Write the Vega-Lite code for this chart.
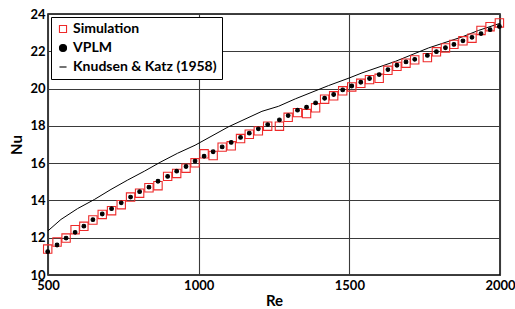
{
  "$schema": "https://vega.github.io/schema/vega-lite/v6.json",
  "autosize": {"type": "none"},
  "width": 452,
  "height": 261,
  "padding": {"left": 48, "top": 14, "right": 15, "bottom": 34},
  "background": "white",
  "config": {
    "font": "Lato",
    "view": {"stroke": "black", "strokeWidth": 1.5},
    "axis": {
      "labelFont": "Lato", "labelFontWeight": "bold", "labelFontSize": 13, "labelColor": "black",
      "titleFont": "Lato", "titleFontWeight": "bold", "titleFontSize": 15, "titleColor": "black",
      "domain": false, "ticks": false, "gridColor": "#3a3a3a", "gridWidth": 1.1, "gridOpacity": 1,
      "labelOverlap": false
    },
    "legend": {
      "labelFont": "Lato", "labelFontWeight": "bold", "labelFontSize": 14, "labelColor": "black"
    }
  },
  "datasets": {
    "pts": [
      {"Re": 499, "Simulation": 11.39, "VPLM": 11.25},
      {"Re": 530, "Simulation": 11.77, "VPLM": 11.61},
      {"Re": 560, "Simulation": 11.98, "VPLM": 11.98},
      {"Re": 590, "Simulation": 12.43, "VPLM": 12.29},
      {"Re": 619, "Simulation": 12.61, "VPLM": 12.62},
      {"Re": 649, "Simulation": 12.95, "VPLM": 12.97},
      {"Re": 680, "Simulation": 13.25, "VPLM": 13.27},
      {"Re": 711, "Simulation": 13.45, "VPLM": 13.56},
      {"Re": 743, "Simulation": 13.77, "VPLM": 13.87},
      {"Re": 774, "Simulation": 14.18, "VPLM": 14.18},
      {"Re": 804, "Simulation": 14.39, "VPLM": 14.47},
      {"Re": 835, "Simulation": 14.68, "VPLM": 14.71},
      {"Re": 865, "Simulation": 14.79, "VPLM": 15.03},
      {"Re": 897, "Simulation": 15.29, "VPLM": 15.29},
      {"Re": 927, "Simulation": 15.45, "VPLM": 15.57},
      {"Re": 958, "Simulation": 15.73, "VPLM": 15.82},
      {"Re": 988, "Simulation": 16.02, "VPLM": 16.11},
      {"Re": 1018, "Simulation": 16.5, "VPLM": 16.37},
      {"Re": 1048, "Simulation": 16.41, "VPLM": 16.61},
      {"Re": 1078, "Simulation": 16.86, "VPLM": 16.87},
      {"Re": 1108, "Simulation": 16.93, "VPLM": 17.11},
      {"Re": 1139, "Simulation": 17.32, "VPLM": 17.38},
      {"Re": 1168, "Simulation": 17.55, "VPLM": 17.61},
      {"Re": 1198, "Simulation": 17.73, "VPLM": 17.84},
      {"Re": 1229, "Simulation": 17.98, "VPLM": 18.07},
      {"Re": 1268, "Simulation": 17.98, "VPLM": 18.32},
      {"Re": 1297, "Simulation": 18.46, "VPLM": 18.55},
      {"Re": 1328, "Simulation": 18.71, "VPLM": 18.84},
      {"Re": 1358, "Simulation": 18.66, "VPLM": 19.0},
      {"Re": 1388, "Simulation": 18.97, "VPLM": 19.23},
      {"Re": 1418, "Simulation": 19.43, "VPLM": 19.48},
      {"Re": 1448, "Simulation": 19.61, "VPLM": 19.68},
      {"Re": 1478, "Simulation": 19.88, "VPLM": 19.93},
      {"Re": 1508, "Simulation": 20.09, "VPLM": 20.14},
      {"Re": 1538, "Simulation": 20.28, "VPLM": 20.34},
      {"Re": 1567, "Simulation": 20.48, "VPLM": 20.54},
      {"Re": 1599, "Simulation": 20.55, "VPLM": 20.75},
      {"Re": 1628, "Simulation": 20.98, "VPLM": 21.02},
      {"Re": 1658, "Simulation": 21.19, "VPLM": 21.25},
      {"Re": 1688, "Simulation": 21.36, "VPLM": 21.43},
      {"Re": 1717, "Simulation": 21.54, "VPLM": 21.57},
      {"Re": 1759, "Simulation": 21.66, "VPLM": 21.78},
      {"Re": 1789, "Simulation": 21.97, "VPLM": 21.98},
      {"Re": 1819, "Simulation": 22.18, "VPLM": 22.19},
      {"Re": 1847, "Simulation": 22.37, "VPLM": 22.37},
      {"Re": 1877, "Simulation": 22.56, "VPLM": 22.56},
      {"Re": 1907, "Simulation": 22.7, "VPLM": 22.75},
      {"Re": 1937, "Simulation": 23.12, "VPLM": 22.95},
      {"Re": 1967, "Simulation": 23.32, "VPLM": 23.16},
      {"Re": 1998, "Simulation": 23.52, "VPLM": 23.33}
    ],
    "kk": [
      {"Re": 500, "Nu": 12.37},
      {"Re": 543, "Nu": 12.98},
      {"Re": 598, "Nu": 13.56},
      {"Re": 654, "Nu": 14.05},
      {"Re": 709, "Nu": 14.59},
      {"Re": 764, "Nu": 15.09},
      {"Re": 820, "Nu": 15.57},
      {"Re": 875, "Nu": 16.07},
      {"Re": 930, "Nu": 16.53},
      {"Re": 988, "Nu": 16.96},
      {"Re": 1099, "Nu": 17.95},
      {"Re": 1210, "Nu": 18.78},
      {"Re": 1265, "Nu": 19.05},
      {"Re": 1321, "Nu": 19.45},
      {"Re": 1431, "Nu": 20.16},
      {"Re": 1500, "Nu": 20.57},
      {"Re": 1542, "Nu": 20.84},
      {"Re": 1653, "Nu": 21.46},
      {"Re": 1763, "Nu": 22.18},
      {"Re": 1874, "Nu": 22.77},
      {"Re": 1929, "Nu": 23.12},
      {"Re": 2000, "Nu": 23.5}
    ]
  },
  "encoding": {
    "x": {
      "field": "Re", "type": "quantitative",
      "scale": {"domain": [500, 2000], "nice": false, "zero": false},
      "axis": {"title": "Re", "values": [500, 1000, 1500, 2000], "format": "d", "labelPadding": 4, "titlePadding": 1, "labelFlush": false, "labelOverlap": false}
    },
    "y": {
      "field": "Nu", "type": "quantitative",
      "scale": {"domain": [10, 24], "nice": false, "zero": false},
      "axis": {"title": "Nu", "values": [10, 12, 14, 16, 18, 20, 22, 24], "format": "d", "labelPadding": 3, "titlePadding": 5, "labelFlush": false, "labelOverlap": false}
    }
  },
  "layer": [
    {
      "data": {"name": "kk"},
      "mark": {"type": "line", "strokeWidth": 1, "clip": true},
      "encoding": {
        "stroke": {
          "datum": "Knudsen & Katz (1958)", "type": "nominal",
          "legend": {
            "title": null, "orient": "top-left", "offset": 3, "padding": 5,
            "strokeColor": "black", "fillColor": "white", "rowPadding": 5,
            "symbolStrokeWidth": 1.1, "labelOffset": 3, "symbolSize": 50
          }
        }
      }
    },
    {
      "data": {"name": "pts"},
      "transform": [{"fold": ["Simulation", "VPLM"], "as": ["series", "Nu"]}],
      "mark": {"type": "point", "opacity": 1, "strokeWidth": 1.1},
      "encoding": {
        "shape": {
          "field": "series", "type": "nominal",
          "scale": {"domain": ["Simulation", "VPLM", "Knudsen & Katz (1958)"], "range": ["square", "circle", "stroke"]},
          "legend": null
        },
        "stroke": {
          "field": "series", "type": "nominal",
          "scale": {"domain": ["Simulation", "VPLM", "Knudsen & Katz (1958)"], "range": ["#ee2a2a", "black", "black"]},
          "legend": {
            "title": null, "orient": "top-left", "offset": 3, "padding": 5,
            "strokeColor": "black", "fillColor": "white", "rowPadding": 5,
            "symbolStrokeWidth": 1.1, "labelOffset": 3, "symbolSize": 50
          }
        },
        "fill": {
          "field": "series", "type": "nominal",
          "scale": {"domain": ["Simulation", "VPLM", "Knudsen & Katz (1958)"], "range": ["transparent", "black", "transparent"]},
          "legend": null
        },
        "size": {
          "field": "series", "type": "nominal",
          "scale": {"type": "point", "padding": 0, "domain": ["VPLM", "Simulation", "Knudsen & Katz (1958)"], "range": [14, 126]},
          "legend": null
        }
      }
    }
  ]
}
